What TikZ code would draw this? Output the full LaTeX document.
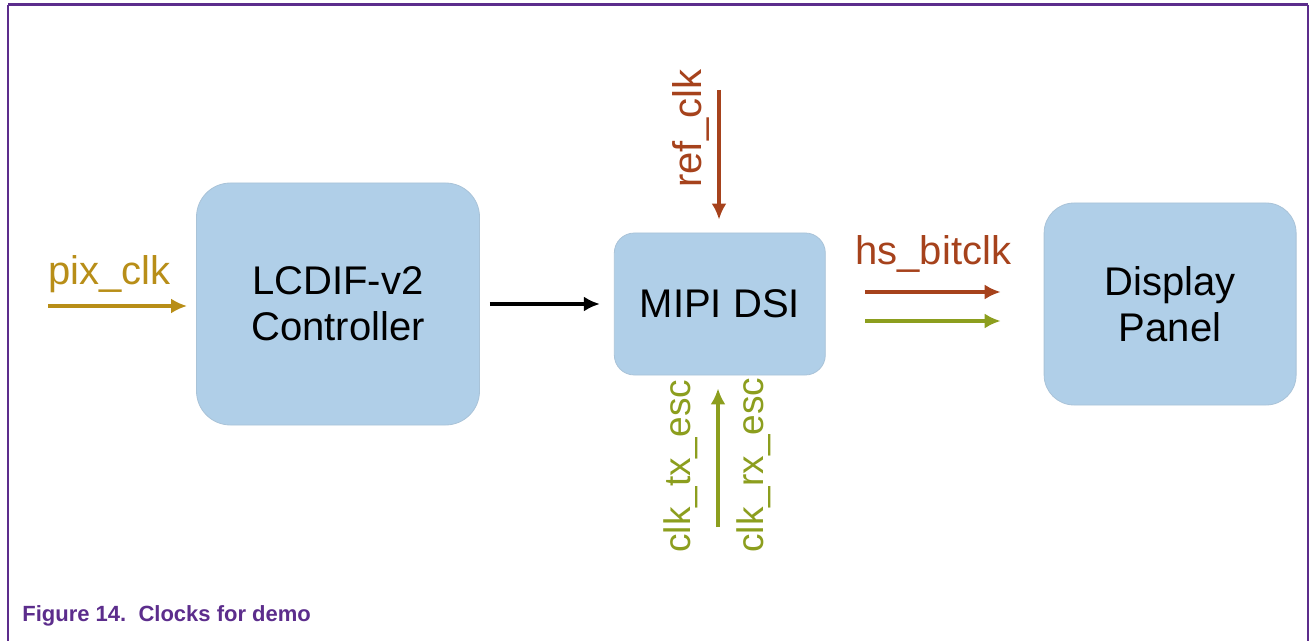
\documentclass[tikz,border=0pt]{standalone}
\usepackage{fontspec}
\setmainfont{Liberation Sans}
\usetikzlibrary{positioning}
\usetikzlibrary{arrows.meta}
\definecolor{boxblue}{RGB}{176,207,232}
\definecolor{pixgold}{RGB}{184,142,24}
\definecolor{refrust}{RGB}{166,66,28}
\definecolor{escgreen}{RGB}{140,158,30}
\definecolor{nxppurple}{RGB}{92,45,140}

\begin{document}
\begin{tikzpicture}[x=0.5pt, y=-0.5pt]
  \tikzstyle{block}=[
      rectangle, fill = boxblue, draw = boxblue!85!gray
    , align = center, font = \fontsize{20}{23}\selectfont
    ]
  \tikzstyle{connect}=[-{Latex[length = 8pt, width = 7.5pt]}, line width = 2.2pt]
  \tikzstyle{clk}=[font = \fontsize{20}{24}\selectfont, inner sep = 0pt]
  \tikzstyle{esc}=[font = \fontsize{18.5}{22}\selectfont, inner sep = 0pt]

  \useasboundingbox (0,0) rectangle (1309,641);
  \draw[nxppurple, line width = 1.5pt] (8,5) -- (1308,5);
  \draw[nxppurple, line width = 1pt] (8,5) -- (8,641);
  \draw[nxppurple, line width = 1pt] (1308,5) -- (1308,641);

  \node[block, rounded corners = 17pt, minimum width = 141.5pt, minimum height = 121pt] (lcdif) at (338,304) {LCDIF-v2\\Controller};
  \node[block, rounded corners = 10pt, minimum width = 105.5pt, minimum height = 71pt, right = 67pt of lcdif] (mipi) {MIPI DSI};
  \node[block, rounded corners = 15pt, minimum width = 126pt, minimum height = 101pt, right = 109pt of mipi] (panel) {Display\\Panel};

  \coordinate (pixin) at (48,306);
  \coordinate (refin) at (719,90);
  \coordinate (escin) at (718,527);
  \coordinate (hsA) at (865,292);
  \coordinate (hsB) at (865,321);

  \draw[connect, pixgold, shorten >= 4.5pt] (pixin) -- (pixin -| lcdif.west);
  \draw[connect, shorten <= 5pt, shorten >= 7pt] (lcdif.east) -- (mipi.west);
  \draw[connect, refrust, shorten >= 6.5pt] (refin) -- (refin |- mipi.north);
  \draw[connect, escgreen, shorten >= 6.5pt] (escin) -- (escin |- mipi.south);
  \draw[connect, refrust, shorten >= 21.5pt] (hsA) -- (hsA -| panel.west);
  \draw[connect, escgreen, shorten >= 21.5pt] (hsB) -- (hsB -| panel.west);

  \node[clk, text = pixgold, anchor = base west] (pixlbl) at (48,285) {pix\_clk};
  \node[clk, text = refrust, rotate = 90, anchor = base west] (reflbl) at (701,188) {ref\_clk};
  \node[clk, text = refrust, anchor = base west] (hslbl) at (855,265) {hs\_bitclk};
  \node[esc, text = escgreen, rotate = 90, anchor = base west] (txlbl) at (690,553) {clk\_tx\_esc};
  \node[esc, text = escgreen, rotate = 90, anchor = base west] (rxlbl) at (763,553) {clk\_rx\_esc};

  \node[anchor = base west, inner sep = 0pt, text = nxppurple, font = \fontsize{11}{13}\selectfont\bfseries] (caption) at (22,621) {Figure 14.\ \ Clocks for demo};
\end{tikzpicture}
\end{document}
